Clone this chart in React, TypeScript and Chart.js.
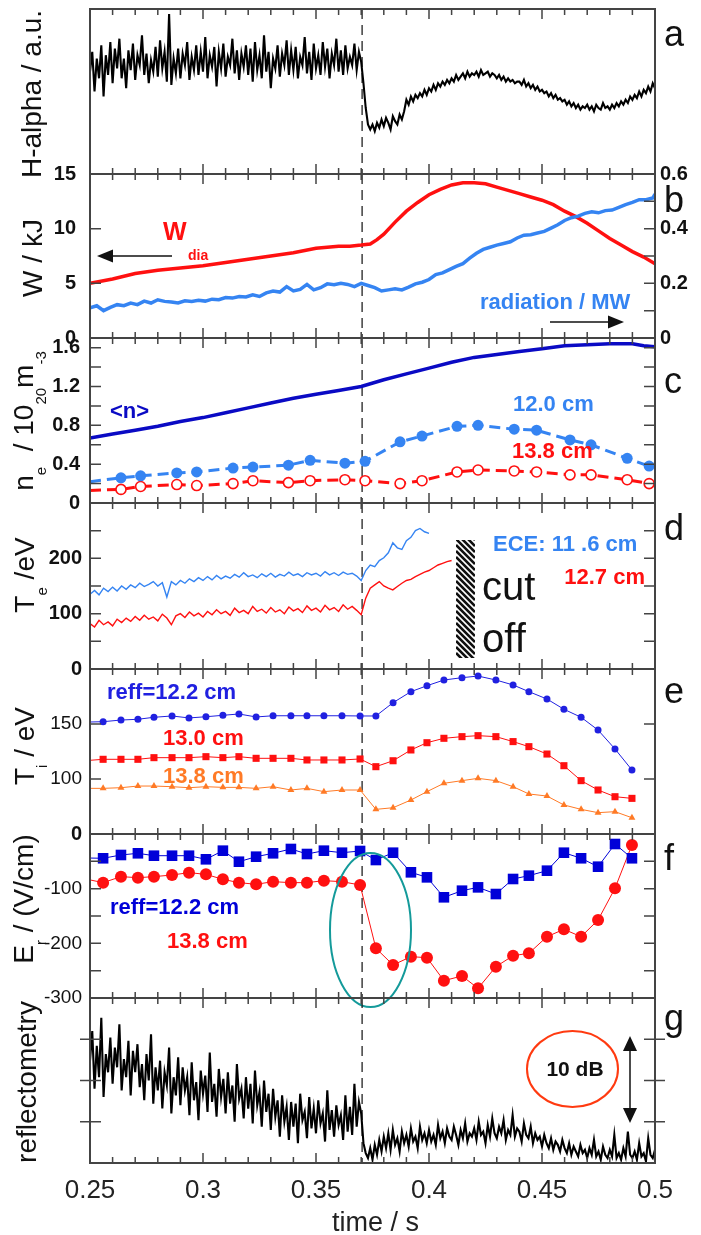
import React, { useEffect, useRef } from "react";
import { Chart, registerables } from "chart.js";

Chart.register(...registerables);

const FF = '"Liberation Sans", Arial, Helvetica, sans-serif';
const PAGE_W = 701;
const PAGE_H = 1235;
const PLOT_LEFT = 90;
const PLOT_RIGHT = 655;
const BOUNDS = [9, 174, 338, 503, 669, 834, 998, 1163];
const X_MIN = 0.25;
const X_MAX = 0.5;
const T_DROP = 0.3704;
const X_TICK_LABELS = [0.25, 0.3, 0.35, 0.4, 0.45, 0.5];
const X_TITLE = "time / s";

// (a) H-alpha, a.u. (0..100), sampled every 1 ms from 0.250 s
const HALPHA_T0 = 0.25;
const HALPHA_DT = 0.001;
const HALPHA = [
  62, 74, 50, 70, 58, 78, 47, 72, 60, 80,
  55, 76, 64, 82, 58, 70, 52, 75, 63, 79,
  57, 72, 66, 84, 60, 73, 55, 69, 62, 77,
  59, 81, 64, 74, 56, 97, 54, 70, 61, 76,
  58, 73, 66, 80, 57, 71, 63, 78, 60, 74,
  62, 83, 58, 72, 65, 77, 53, 74, 64, 79,
  59, 71, 66, 82, 61, 75, 57, 73, 65, 78,
  60, 76, 56, 80, 63, 72, 58, 84, 62, 74,
  52, 70, 64, 78, 59, 73, 66, 81, 60, 75,
  63, 77, 58, 71, 66, 83, 61, 74, 57, 79,
  64, 72, 60, 80, 65, 76, 58, 73, 66, 82,
  62, 75, 60, 78, 64, 71, 66, 79, 63, 74,
  68,
  55, 40, 30, 27,
  30, 26, 31, 28, 33,
  29, 34, 31, 27, 35, 32, 30, 36, 33, 38,
  45, 42, 47, 44, 48, 46, 49, 47, 51, 48,
  52, 50, 54, 51, 55, 53, 56, 54, 57, 55,
  58, 56, 60, 57, 59, 61, 58, 62, 59, 61,
  60, 62, 59, 63, 60, 61, 62, 59, 61, 60,
  58, 60, 57, 59, 56, 58, 56, 57, 55, 56,
  56, 54, 57, 53, 55, 52, 54, 51, 53, 50,
  51, 49, 50, 47, 49, 46, 48, 45, 46, 44,
  45, 42, 44, 41, 43, 40, 42, 39, 41, 40,
  42, 39, 41, 38, 42, 40, 39, 43, 40, 41,
  39, 42, 40, 43, 41, 44, 42, 45, 43, 47,
  45, 48, 46, 50, 47, 51, 49, 53, 50, 55, 52,
];

// (b) stored energy (kJ) and radiation (MW)
const W_T = [0.25, 0.26, 0.27, 0.28, 0.29, 0.3, 0.31, 0.32, 0.33, 0.34, 0.35, 0.36, 0.365, 0.37, 0.374, 0.377, 0.38, 0.385, 0.39, 0.395, 0.4, 0.405, 0.41, 0.415, 0.42, 0.425, 0.43, 0.435, 0.44, 0.445, 0.45, 0.455, 0.46, 0.465, 0.47, 0.475, 0.48, 0.485, 0.49, 0.495, 0.5];
const W_DIA = [5.0, 5.4, 5.9, 6.2, 6.4, 6.6, 6.9, 7.2, 7.5, 7.8, 8.2, 8.4, 8.4, 8.5, 8.6, 9.0, 9.5, 10.6, 11.6, 12.4, 13.1, 13.6, 14.0, 14.2, 14.2, 14.1, 13.8, 13.5, 13.2, 12.9, 12.6, 12.2, 11.6, 11.1, 10.5, 9.8, 9.1, 8.5, 7.9, 7.4, 6.8];
const RAD_T = [0.25, 0.253, 0.256, 0.259, 0.262, 0.265, 0.268, 0.271, 0.274, 0.277, 0.28, 0.283, 0.286, 0.289, 0.292, 0.295, 0.298, 0.301, 0.304, 0.307, 0.31, 0.313, 0.316, 0.319, 0.322, 0.325, 0.328, 0.331, 0.334, 0.337, 0.34, 0.343, 0.346, 0.349, 0.352, 0.355, 0.358, 0.361, 0.364, 0.367, 0.37, 0.373, 0.376, 0.379, 0.382, 0.385, 0.388, 0.391, 0.394, 0.397, 0.4, 0.403, 0.406, 0.409, 0.412, 0.415, 0.418, 0.421, 0.424, 0.427, 0.43, 0.433, 0.436, 0.439, 0.442, 0.445, 0.448, 0.451, 0.454, 0.457, 0.46, 0.463, 0.466, 0.469, 0.472, 0.475, 0.478, 0.481, 0.484, 0.487, 0.49, 0.493, 0.496, 0.499, 0.5];
const RAD = [
  0.110, 0.118, 0.100, 0.112, 0.122, 0.118, 0.128, 0.122, 0.135, 0.128,
  0.140, 0.134, 0.132, 0.128, 0.136, 0.134, 0.138, 0.135, 0.142, 0.140,
  0.148, 0.146, 0.152, 0.150, 0.158, 0.152, 0.165, 0.172, 0.168, 0.188,
  0.172, 0.178, 0.196, 0.176, 0.184, 0.198, 0.195, 0.200, 0.196, 0.188,
  0.200, 0.192, 0.184, 0.172, 0.176, 0.180, 0.176, 0.186, 0.198, 0.204,
  0.214, 0.232, 0.238, 0.250, 0.262, 0.272, 0.292, 0.310, 0.324, 0.332,
  0.340, 0.346, 0.352, 0.366, 0.376, 0.378, 0.384, 0.390, 0.402, 0.414,
  0.430, 0.440, 0.446, 0.456, 0.462, 0.458, 0.466, 0.468, 0.478, 0.488,
  0.496, 0.506, 0.506, 0.512, 0.526,
];

// (c) density, 10^20 m^-3
const NBAR_T = [0.25, 0.26, 0.27, 0.28, 0.29, 0.3, 0.31, 0.32, 0.33, 0.34, 0.35, 0.36, 0.37, 0.38, 0.39, 0.4, 0.41, 0.42, 0.43, 0.44, 0.45, 0.46, 0.47, 0.48, 0.49, 0.495, 0.5];
const NBAR = [0.67, 0.71, 0.75, 0.79, 0.84, 0.88, 0.93, 0.98, 1.03, 1.08, 1.12, 1.16, 1.2, 1.27, 1.33, 1.39, 1.45, 1.5, 1.53, 1.56, 1.59, 1.62, 1.63, 1.64, 1.64, 1.62, 1.61];
const NE_T = [0.25, 0.2637, 0.2724, 0.2884, 0.2972, 0.3133, 0.3221, 0.3378, 0.3474, 0.3628, 0.3717, 0.3872, 0.3969, 0.4124, 0.4217, 0.4377, 0.4476, 0.4624, 0.4717, 0.4877, 0.4974];
const NE_120 = [0.22, 0.26, 0.28, 0.31, 0.32, 0.36, 0.37, 0.39, 0.44, 0.41, 0.43, 0.63, 0.69, 0.79, 0.8, 0.76, 0.75, 0.65, 0.6, 0.46, 0.38];
const NE_138 = [0.13, 0.14, 0.17, 0.19, 0.18, 0.2, 0.23, 0.21, 0.23, 0.24, 0.23, 0.2, 0.23, 0.32, 0.34, 0.33, 0.32, 0.29, 0.29, 0.24, 0.2];

// (d) ECE electron temperature (eV), sampled every 2 ms from 0.250 s
const TE_T0 = 0.25;
const TE_DT = 0.002;
const TE_116 = [
  135, 142, 134, 146, 140, 148, 141, 150, 144, 152,
  147, 155, 149, 153, 158, 150, 156, 130, 158, 152,
  160, 155, 163, 158, 165, 160, 167, 161, 169, 163,
  168, 164, 171, 166, 174, 167, 170, 165, 172, 167,
  173, 166, 171, 168, 175, 169, 172, 167, 174, 170,
  173, 168, 176, 170, 174, 169, 175, 171, 173, 168,
  160, 178, 188, 185, 196, 201, 210, 228, 219, 216,
  232, 238, 250, 254, 248, 245,
];
const TE_127 = [
  82, 76, 88, 80, 85, 78, 90, 84, 92, 86,
  95, 88, 97, 90, 94, 87, 99, 92, 80, 96,
  100, 93, 103, 96, 101, 94, 104, 98, 107, 100,
  104, 97, 110, 102, 106, 100, 113, 104, 108, 101,
  111, 103, 107, 100, 112, 105, 109, 102, 114, 106,
  110, 103, 115, 107, 111, 104, 116, 108, 113, 106,
  98, 128, 146, 152, 158, 150, 146, 143, 149, 155,
  160, 162, 167, 171, 175, 178, 183, 188, 191, 194, 196,
];

// (e) ion temperature (eV) and (f) radial electric field (V/cm), CXRS times
const P_T = [0.25, 0.2558, 0.2637, 0.2712, 0.2783, 0.2863, 0.2938, 0.3013, 0.3088, 0.3159, 0.3235, 0.331, 0.3389, 0.346, 0.3535, 0.3615, 0.3695, 0.3765, 0.3841, 0.392, 0.3991, 0.4066, 0.4146, 0.4217, 0.4296, 0.4372, 0.4442, 0.4522, 0.4597, 0.4673, 0.4748, 0.4823, 0.4898];
const TI_122 = [151.8, 152.1, 153.6, 154.3, 156.1, 157.3, 155.5, 156.6, 157.9, 159.1, 156.4, 157.5, 157.5, 157.5, 157.5, 157.5, 157.3, 157.3, 169.4, 179.4, 184.8, 190.0, 192.1, 193.6, 190.0, 185.5, 179.4, 172.7, 163.4, 156.1, 144.5, 127.3, 108.2];
const TI_130 = [117.0, 117.9, 117.9, 117.9, 119.4, 119.4, 119.4, 120.3, 119.4, 120.3, 118.8, 118.8, 118.8, 117.3, 117.3, 117.3, 118.2, 111.2, 116.6, 126.4, 133.0, 137.0, 138.5, 139.4, 138.5, 134.0, 129.4, 122.7, 112.1, 98.5, 90.0, 83.9, 82.4];
const TI_138 = [91.5, 91.5, 92.1, 93.6, 93.6, 93.0, 92.1, 93.0, 92.4, 92.4, 91.5, 93.0, 90.0, 91.5, 88.5, 90.0, 90.0, 72.4, 73.9, 80.9, 88.5, 96.1, 98.5, 100.6, 98.5, 93.0, 86.4, 84.5, 76.4, 72.4, 69.4, 70.3, 64.8];
const ER_122 = [-44.0, -44.4, -38.4, -35.3, -39.7, -39.7, -39.7, -46.3, -30.5, -50.7, -41.5, -35.3, -27.4, -36.6, -30.5, -34.2, -31.1, -47.6, -34.2, -70.1, -79.3, -115.8, -103.7, -97.6, -109.8, -82.3, -76.2, -67.1, -34.2, -44.4, -59.8, -18.3, -44.4];
const ER_138 = [-84.0, -89.0, -78.0, -79.9, -78.0, -75.0, -70.7, -73.8, -82.9, -89.0, -92.0, -87.2, -89.0, -89.0, -85.4, -87.2, -93.3, -209.0, -239.6, -224.4, -226.2, -268.3, -259.7, -282.3, -242.7, -222.6, -218.2, -187.8, -174.4, -187.8, -157.3, -99.3, -20.1];

// (g) reflectometry amplitude (0..100, 10 dB = 50 units), sampled every 1 ms
const REFL_T0 = 0.25;
const REFL_DT = 0.001;
const REFL = [
  62, 80, 45, 71, 52, 88, 40, 66, 55, 76,
  48, 70, 58, 84, 44, 63, 52, 74, 41, 68,
  55, 72, 46, 60, 38, 66, 50, 78, 36, 58,
  44, 62, 33, 55, 47, 70, 30, 52, 41, 64,
  35, 58, 44, 52, 29, 61, 38, 49, 26, 56,
  42, 53, 31, 67, 37, 48, 28, 57, 40, 51,
  30, 55, 36, 47, 25, 60, 39, 45, 27, 52,
  33, 48, 24, 56, 35, 43, 22, 50, 31, 42,
  20, 45, 28, 38, 16, 41, 25, 34, 14, 37,
  22, 36, 12, 42, 26, 31, 15, 40, 21, 33,
  18, 38, 24, 30, 13, 44, 20, 32, 16, 35,
  23, 29, 14, 41, 19, 34, 17, 48, 22, 37,
  30,
  12, 6, 3, 9, 2, 11, 5, 14, 7,
  16, 9, 18, 8, 20, 11, 15, 7, 19, 12,
  17, 10, 21, 13, 16, 9, 22, 14, 18, 12,
  20, 13, 17, 11, 23, 15, 19, 12, 21, 16,
  14, 22, 17, 11, 20, 15, 24, 13, 18, 16,
  21, 14, 25, 17, 19, 12, 23, 16, 27, 18,
  15, 22, 18, 26, 14, 20, 17, 29, 16, 21,
  19, 13, 24, 17, 15, 22, 12, 18, 14, 16,
  10, 17, 12, 9, 15, 8, 13, 11, 7, 14,
  9, 6, 12, 5, 10, 7, 4, 11, 6, 8,
  3, 9, 5, 14, 4, 7, 2, 10, 5, 3,
  8, 4, 17, 3, 6, 2, 9, 4, 19, 5,
  3, 7, 2, 12, 4, 6, 1, 15, 5, 3, 8,
];

// colours
const C_BLACK = "#000000";
const C_RED = "#ff1010";
const C_LBLUE = "#3584f2";
const C_NAVY = "#0a0ac4";
const C_BLUE = "#2020e0";
const C_DBLUE = "#0000d8";
const C_ORANGE = "#ff7a26";
const C_TEAL = "#149a9a";
const C_ELLRED = "#ff3a10";

// ---------- helpers ----------
const pairs = (t: number[], v: number[]) => v.map((y, i) => ({ x: t[i], y }));
const sampled = (t0: number, dt: number, v: number[]) => v.map((y, i) => ({ x: t0 + i * dt, y }));
const noFirst = (r: number) => (c: any) => (c.dataIndex === 0 ? 0 : r);

function lineDs(data: any[], color: string, width: number, extra: any = {}) {
  return {
    data,
    borderColor: color,
    backgroundColor: color,
    borderWidth: width,
    pointRadius: 0,
    tension: 0,
    fill: false,
    ...extra,
  };
}

function drawText(ctx: CanvasRenderingContext2D, s: string, x: number, y: number, size: number, color: string, bold = false, align: CanvasTextAlign = "left", baseline: CanvasTextBaseline = "middle") {
  ctx.save();
  ctx.font = `${bold ? "bold " : ""}${size}px ${FF}`;
  ctx.fillStyle = color;
  ctx.textAlign = align;
  ctx.textBaseline = baseline;
  ctx.fillText(s, x, y);
  ctx.restore();
}

function drawRotTitle(ctx: CanvasRenderingContext2D, parts: [string, number][], baseX: number, centerY: number) {
  const MAIN = `28px ${FF}`;
  const SUB = `15px ${FF}`;
  ctx.save();
  const widths = parts.map(([s, l]) => {
    ctx.font = l ? SUB : MAIN;
    return ctx.measureText(s).width;
  });
  const total = widths.reduce((a, b) => a + b, 0);
  ctx.translate(baseX, centerY);
  ctx.rotate(-Math.PI / 2);
  ctx.fillStyle = "#111";
  ctx.textAlign = "left";
  ctx.textBaseline = "alphabetic";
  let pos = -total / 2;
  parts.forEach(([s, l], i) => {
    ctx.font = l ? SUB : MAIN;
    ctx.fillText(s, pos, l ? 13 : 0);
    pos += widths[i];
  });
  ctx.restore();
}

function arrow(ctx: CanvasRenderingContext2D, x1: number, y1: number, x2: number, y2: number, hl = 16, hw = 6.5) {
  const a = Math.atan2(y2 - y1, x2 - x1);
  const bx = x2 - hl * Math.cos(a);
  const by = y2 - hl * Math.sin(a);
  ctx.save();
  ctx.strokeStyle = "#111";
  ctx.fillStyle = "#111";
  ctx.lineWidth = 1.5;
  ctx.beginPath();
  ctx.moveTo(x1, y1);
  ctx.lineTo(bx, by);
  ctx.stroke();
  ctx.beginPath();
  ctx.moveTo(x2, y2);
  ctx.lineTo(bx + hw * Math.sin(a), by - hw * Math.cos(a));
  ctx.lineTo(bx - hw * Math.sin(a), by + hw * Math.cos(a));
  ctx.closePath();
  ctx.fill();
  ctx.restore();
}

function ellipse(ctx: CanvasRenderingContext2D, cx: number, cy: number, rx: number, ry: number, color: string) {
  ctx.save();
  ctx.strokeStyle = color;
  ctx.lineWidth = 2;
  ctx.beginPath();
  ctx.ellipse(cx, cy, rx, ry, 0, 0, Math.PI * 2);
  ctx.stroke();
  ctx.restore();
}

function hatch(ctx: CanvasRenderingContext2D, x: number, y: number, w: number, h: number) {
  ctx.save();
  ctx.beginPath();
  ctx.rect(x, y, w, h);
  ctx.clip();
  ctx.fillStyle = "#fff";
  ctx.fillRect(x, y, w, h);
  ctx.strokeStyle = "#111";
  ctx.lineWidth = 2.6;
  ctx.beginPath();
  for (let k = -w; k < h + w; k += 6) {
    ctx.moveTo(x, y + k);
    ctx.lineTo(x + w, y + k + w);
  }
  ctx.stroke();
  ctx.restore();
}

// ---------- panel specs ----------
type FontSpec = { size: number; weight: string };
type AxisSpec = { min: number; max: number; labels: number[]; fmt: (v: number) => string; font: (v: number) => FontSpec; padding: number };
type PanelSpec = {
  key: string;
  letter: string;
  letterY: number;
  title: [string, number][];
  titleX: number;
  titleY: number;
  left: AxisSpec;
  right?: AxisSpec;
  leftTicks: number[];
  rightTicks: number[];
  rightTickAxis: string;
  crossTicks?: boolean;
  datasets: any[];
  annotate?: (ctx: CanvasRenderingContext2D, chart: any) => void;
};

const BOLD20 = () => ({ size: 20, weight: "bold" });
const NORM19 = () => ({ size: 19, weight: "normal" });
const fmt1 = (v: number) => (v === 0 ? "0" : v.toFixed(1));
const fmt0 = (v: number) => String(Math.round(v));

const PANELS: PanelSpec[] = [
  {
    key: "a",
    letter: "a",
    letterY: 46,
    title: [["H-alpha / a.u.", 0]],
    titleX: 41,
    titleY: 94,
    left: { min: 0, max: 100, labels: [], fmt: fmt0, font: BOLD20, padding: 10 },
    leftTicks: [],
    rightTicks: [],
    rightTickAxis: "y",
    datasets: [lineDs(sampled(HALPHA_T0, HALPHA_DT, HALPHA), C_BLACK, 2.1)],
  },
  {
    key: "b",
    letter: "b",
    letterY: 212,
    title: [["W / kJ", 0]],
    titleX: 42,
    titleY: 258,
    left: { min: 0, max: 15, labels: [0, 5, 10, 15], fmt: fmt0, font: BOLD20, padding: 14 },
    right: { min: 0, max: 0.6, labels: [0, 0.2, 0.4, 0.6], fmt: fmt1, font: BOLD20, padding: 5 },
    leftTicks: [5, 10],
    rightTicks: [0.1, 0.2, 0.3, 0.4, 0.5],
    rightTickAxis: "y2",
    datasets: [
      lineDs(pairs(RAD_T, RAD), C_LBLUE, 3.5, { yAxisID: "y2" }),
      lineDs(pairs(W_T, W_DIA), C_RED, 3.5, { yAxisID: "y" }),
    ],
    annotate: (ctx) => {
      drawText(ctx, "W", 163, 240, 25, C_RED, true, "left", "alphabetic");
      drawText(ctx, "dia", 188, 260, 14, C_RED, true, "left", "alphabetic");
      arrow(ctx, 172, 256, 97, 256);
      drawText(ctx, "radiation / MW", 480, 303, 22, C_LBLUE, true);
      arrow(ctx, 550, 322, 624, 322);
    },
  },
  {
    key: "c",
    letter: "c",
    letterY: 393,
    title: [["n", 0], ["e", 1], ["  / 10", 0], ["20", 1], ["m", 0], ["-3", 1]],
    titleX: 33,
    titleY: 421,
    left: { min: 0, max: 1.7, labels: [0, 0.4, 0.8, 1.2, 1.6], fmt: fmt1, font: BOLD20, padding: 10 },
    leftTicks: [0.2, 0.4, 0.6, 0.8, 1.0, 1.2, 1.4, 1.6],
    rightTicks: [0.2, 0.4, 0.6, 0.8, 1.0, 1.2, 1.4, 1.6],
    rightTickAxis: "y",
    datasets: [
      lineDs(pairs(NBAR_T, NBAR), C_NAVY, 3.5),
      lineDs(pairs(NE_T, NE_120), C_LBLUE, 3, {
        borderDash: [11, 6],
        pointRadius: noFirst(5.5),
        pointStyle: "circle",
        pointBackgroundColor: C_LBLUE,
        pointBorderColor: C_LBLUE,
        pointBorderWidth: 0,
      }),
      lineDs(pairs(NE_T, NE_138), C_RED, 3, {
        borderDash: [11, 6],
        pointRadius: noFirst(5),
        pointStyle: "circle",
        pointBackgroundColor: "#ffffff",
        pointBorderColor: C_RED,
        pointBorderWidth: 1.6,
      }),
    ],
    annotate: (ctx) => {
      drawText(ctx, "<n>", 110, 412, 22, C_NAVY, true);
      drawText(ctx, "12.0 cm", 513, 405, 22, C_LBLUE, true);
      drawText(ctx, "13.8 cm", 512, 452, 22, C_RED, true);
    },
  },
  {
    key: "d",
    letter: "d",
    letterY: 540,
    title: [["T", 0], ["e", 1], [" /eV", 0]],
    titleX: 34,
    titleY: 575,
    left: { min: 0, max: 300, labels: [0, 100, 200], fmt: fmt0, font: BOLD20, padding: 8 },
    leftTicks: [50, 100, 150, 200, 250],
    rightTicks: [50, 100, 150, 200, 250],
    rightTickAxis: "y",
    datasets: [
      lineDs(sampled(TE_T0, TE_DT, TE_116), C_LBLUE, 1.4),
      lineDs(sampled(TE_T0, TE_DT, TE_127), C_RED, 1.4),
    ],
    annotate: (ctx) => {
      drawText(ctx, "ECE: 11 .6 cm", 493, 545, 22, C_LBLUE, true);
      drawText(ctx, "12.7 cm", 645, 578, 22, C_RED, true, "right");
      hatch(ctx, 456, 540, 19, 118);
      drawText(ctx, "cut", 482, 600, 40, "#111", false, "left", "alphabetic");
      drawText(ctx, "off", 482, 652, 40, "#111", false, "left", "alphabetic");
    },
  },
  {
    key: "e",
    letter: "e",
    letterY: 703,
    title: [["T", 0], ["i", 1], [" / eV", 0]],
    titleX: 34,
    titleY: 746,
    left: { min: 50, max: 200, labels: [100, 150], fmt: fmt0, font: NORM19, padding: 8 },
    leftTicks: [100, 150],
    rightTicks: [100, 150],
    rightTickAxis: "y",
    datasets: [
      lineDs(pairs(P_T, TI_122), C_BLUE, 1, {
        pointRadius: noFirst(3.5),
        pointStyle: "circle",
        pointBackgroundColor: C_BLUE,
        pointBorderColor: C_BLUE,
        pointBorderWidth: 0,
      }),
      lineDs(pairs(P_T, TI_130), C_RED, 1, {
        pointRadius: noFirst(5),
        pointStyle: "rect",
        pointBackgroundColor: C_RED,
        pointBorderColor: C_RED,
        pointBorderWidth: 0,
      }),
      lineDs(pairs(P_T, TI_138), C_ORANGE, 1, {
        pointRadius: noFirst(4),
        pointStyle: "triangle",
        pointBackgroundColor: C_ORANGE,
        pointBorderColor: C_ORANGE,
        pointBorderWidth: 0,
      }),
    ],
    annotate: (ctx) => {
      drawText(ctx, "reff=12.2 cm", 107, 693, 22, C_BLUE, true);
      drawText(ctx, "13.0 cm", 163, 739, 22, C_RED, true);
      drawText(ctx, "13.8 cm", 163, 777, 22, C_ORANGE, true);
    },
  },
  {
    key: "f",
    letter: "f",
    letterY: 870,
    title: [["E", 0], ["r", 1], [" / (V/cm)", 0]],
    titleX: 33,
    titleY: 899,
    left: {
      min: -300,
      max: 0,
      labels: [0, -100, -200, -300],
      fmt: fmt0,
      font: (v: number) => (v === 0 ? { size: 20, weight: "bold" } : { size: 19, weight: "normal" }),
      padding: 8,
    },
    leftTicks: [-50, -100, -150, -200, -250],
    rightTicks: [-50, -100, -150, -200, -250],
    rightTickAxis: "y",
    datasets: [
      lineDs(pairs(P_T, ER_122), C_DBLUE, 1, {
        pointRadius: noFirst(7.5),
        pointStyle: "rect",
        pointBackgroundColor: C_DBLUE,
        pointBorderColor: C_DBLUE,
        pointBorderWidth: 0,
      }),
      lineDs(pairs(P_T, ER_138), C_RED, 1, {
        pointRadius: noFirst(6),
        pointStyle: "circle",
        pointBackgroundColor: C_RED,
        pointBorderColor: C_RED,
        pointBorderWidth: 0,
      }),
    ],
    annotate: (ctx) => {
      drawText(ctx, "reff=12.2 cm", 110, 908, 22, C_DBLUE, true);
      drawText(ctx, "13.8 cm", 167, 942, 22, C_RED, true);
      ellipse(ctx, 370.5, 930, 40.5, 77, C_TEAL);
    },
  },
  {
    key: "g",
    letter: "g",
    letterY: 1030,
    title: [["reflectometry", 0]],
    titleX: 36,
    titleY: 1082,
    left: { min: 0, max: 100, labels: [], fmt: fmt0, font: BOLD20, padding: 8 },
    leftTicks: [25, 50, 75],
    rightTicks: [25, 50, 75],
    rightTickAxis: "y",
    crossTicks: true,
    datasets: [lineDs(sampled(REFL_T0, REFL_DT, REFL), C_BLACK, 2.1)],
    annotate: (ctx, chart) => {
      ellipse(ctx, 572.5, 1069, 45.5, 38, C_ELLRED);
      drawText(ctx, "10 dB", 575, 1070, 21, "#111", true, "center");
      arrow(ctx, 630, 1080, 630, 1036, 15, 7);
      arrow(ctx, 630, 1080, 630, 1123, 15, 7);
      const xs = chart.scales.x;
      X_TICK_LABELS.forEach((v) => {
        drawText(ctx, String(v), xs.getPixelForValue(v), 1191, 26, "#222", false, "center");
      });
      drawText(ctx, X_TITLE, (xs.left + xs.right) / 2 + 3, 1231, 27, "#222", false, "center", "alphabetic");
    },
  },
];

function geom(i: number) {
  const mt = i === 0 ? BOUNDS[0] : 14;
  const mb = i === 6 ? PAGE_H - BOUNDS[7] : 14;
  const top = BOUNDS[i] - mt;
  const height = BOUNDS[i + 1] - BOUNDS[i] + mt + mb;
  return { mt, mb, top, height };
}

function yScale(a: AxisSpec, side: "left" | "right") {
  return {
    type: "linear",
    position: side,
    min: a.min,
    max: a.max,
    bounds: "data",
    afterFit: (s: any) => {
      s.width = side === "left" ? PLOT_LEFT : PAGE_W - PLOT_RIGHT;
    },
    grid: { display: false, drawTicks: false },
    border: { display: false },
    ticks: { display: false },
  };
}

function drawAxisLabels(ctx: CanvasRenderingContext2D, scale: any, a: AxisSpec, side: "left" | "right", ca: any) {
  a.labels.forEach((v) => {
    const f = a.font(v);
    const y = scale.getPixelForValue(v);
    ctx.save();
    ctx.font = `${f.weight} ${f.size}px ${FF}`;
    ctx.fillStyle = "#111";
    ctx.textBaseline = "middle";
    if (side === "left") {
      ctx.textAlign = "right";
      ctx.fillText(a.fmt(v), ca.left - a.padding, y);
    } else {
      ctx.textAlign = "left";
      ctx.fillText(a.fmt(v), ca.right + a.padding, y);
    }
    ctx.restore();
  });
}

function decorPlugin(spec: PanelSpec, pageTop: number) {
  return {
    id: "decor_" + spec.key,
    beforeDatasetsDraw(chart: any) {
      const { ctx, chartArea: ca } = chart;
      const px = chart.scales.x.getPixelForValue(T_DROP);
      ctx.save();
      ctx.strokeStyle = "#222";
      ctx.lineWidth = 1.3;
      ctx.setLineDash([10, 6]);
      ctx.beginPath();
      ctx.moveTo(px, ca.top);
      ctx.lineTo(px, ca.bottom);
      ctx.stroke();
      ctx.restore();
    },
    afterDatasetsDraw(chart: any) {
      const { ctx, chartArea: ca, scales } = chart;
      const xs = scales.x;
      ctx.save();
      ctx.strokeStyle = "#444";
      ctx.lineWidth = 1.5;
      ctx.beginPath();
      for (let k = 26; k <= 49; k++) {
        const x = xs.getPixelForValue(k / 100);
        const len = k % 5 === 0 ? 10 : 6;
        ctx.moveTo(x, ca.top);
        ctx.lineTo(x, ca.top + len);
        ctx.moveTo(x, ca.bottom);
        ctx.lineTo(x, ca.bottom - len);
      }
      const out = spec.crossTicks ? 10 : 0;
      const ys = scales.y;
      spec.leftTicks.forEach((v) => {
        const y = ys.getPixelForValue(v);
        ctx.moveTo(ca.left - out, y);
        ctx.lineTo(ca.left + 11, y);
      });
      const rs = scales[spec.rightTickAxis];
      spec.rightTicks.forEach((v) => {
        const y = rs.getPixelForValue(v);
        ctx.moveTo(ca.right + out, y);
        ctx.lineTo(ca.right - 11, y);
      });
      ctx.stroke();
      ctx.lineWidth = 2;
      ctx.strokeRect(ca.left, ca.top, ca.right - ca.left, ca.bottom - ca.top);
      ctx.restore();

      drawAxisLabels(ctx, scales.y, spec.left, "left", ca);
      if (spec.right) drawAxisLabels(ctx, scales.y2, spec.right, "right", ca);

      ctx.save();
      ctx.translate(0, -pageTop);
      drawRotTitle(ctx, spec.title, spec.titleX, spec.titleY);
      drawText(ctx, spec.letter, 664, spec.letterY, 36, "#111", false, "left", "alphabetic");
      if (spec.annotate) spec.annotate(ctx, chart);
      ctx.restore();
    },
  };
}

function buildConfig(spec: PanelSpec, i: number): any {
  const g = geom(i);
  const scales: any = {
    x: { type: "linear", min: X_MIN, max: X_MAX, display: false, bounds: "data" },
    y: yScale(spec.left, "left"),
  };
  if (spec.right) scales.y2 = yScale(spec.right, "right");
  return {
    type: "line",
    data: { datasets: spec.datasets },
    options: {
      responsive: false,
      maintainAspectRatio: false,
      animation: false,
      devicePixelRatio: 1,
      events: [],
      layout: {
        padding: { left: 0, right: spec.right ? 0 : PAGE_W - PLOT_RIGHT, top: g.mt, bottom: g.mb },
      },
      plugins: { legend: { display: false }, tooltip: { enabled: false } },
      scales,
    },
    plugins: [decorPlugin(spec, g.top)],
  };
}

function PanelChart({ spec, index }: { spec: PanelSpec; index: number }) {
  const ref = useRef<HTMLCanvasElement | null>(null);
  const g = geom(index);
  useEffect(() => {
    if (!ref.current) return;
    const chart = new Chart(ref.current, buildConfig(spec, index));
    return () => chart.destroy();
  }, [spec, index]);
  return (
    <canvas
      ref={ref}
      width={PAGE_W}
      height={g.height}
      style={{ position: "absolute", left: 0, top: g.top, width: PAGE_W, height: g.height }}
    />
  );
}

export default function App() {
  return (
    <div style={{ position: "absolute", left: 0, top: 0, width: PAGE_W, height: PAGE_H, background: "#ffffff", overflow: "hidden" }}>
      {PANELS.map((p, i) => (
        <PanelChart key={p.key} spec={p} index={i} />
      ))}
    </div>
  );
}
